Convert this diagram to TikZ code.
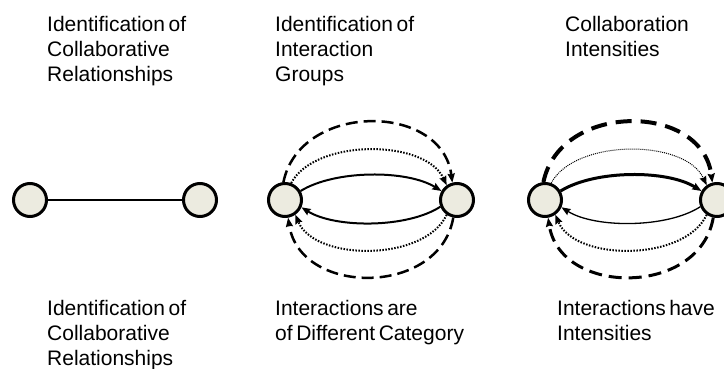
\documentclass[tikz,border=0pt]{standalone}
\usepackage{fontspec}
\setmainfont{Liberation Sans}
\usetikzlibrary{arrows.meta}
\definecolor{ballfill}{RGB}{236,235,224}
\newcommand\mylblfont{\fontsize{21}{25}\selectfont\spaceskip=0.17em\relax}
\begin{document}
\begin{tikzpicture}[x=1pt,y=1pt,
  ball/.style={circle, draw=black, line width=3pt, fill=ballfill, minimum size=33pt, inner sep=0pt},
  lbl/.style={anchor=north west, align=left, inner sep=0pt, font=\mylblfont},
  tip/.style={-{Stealth[length=9pt,width=7pt,inset=1pt]}},
  sol/.style={tip, line width=2pt},
  dots/.style={tip, line width=2pt, dash pattern=on 1.5pt off 1.5pt},
  dsh/.style={tip, line width=2.5pt, dash pattern=on 12pt off 6pt}]
\useasboundingbox (0,0) rectangle (724,369);

% titles
\node[lbl] (t1) at (47,352.5) {Identification of\\Collaborative\\Relationships};
\node[lbl] (t2) at (275,352.5) {Identification of\\Interaction\\Groups};
\node[lbl] (t3) at (565,352.5) {Collaboration\\Intensities};
% captions
\node[lbl] (c1) at (47,69.2) {Identification of\\Collaborative\\Relationships};
\node[lbl] (c2) at (275,69.2) {Interactions are\\of Different Category};
\node[lbl] (c3) at (557,69.2) {Interactions have\\Intensities};

% panel 1
\node[ball] (L1) at (30,169) {};
\node[ball] (R1) at (200,169) {};
\draw[line width=2pt] (L1) -- (R1);

% panel 2
\node[ball] (L2) at (285,169) {};
\node[ball] (R2) at (457,169) {};
\draw[sol] (L2.30) .. controls +(34.4,21.3) and +(-34.4,21.3) .. (R2.150);
\draw[dots] (L2.70) .. controls +(23.8,44.5) and +(-21.7,46.7) .. (R2.125);
\draw[dsh] (L2.95) .. controls +(16.6,80.1) and +(-10.3,80.6) .. (R2.105);
\draw[sol] (R2.202) .. controls +(-33.3,-21.6) and +(33.6,-21) .. (L2.-24);
\draw[dots] (R2.235) .. controls +(-21.7,-47) and +(19.7,-47) .. (L2.-55);
\draw[dsh] (R2.258) .. controls +(-13.3,-79) and +(11.9,-79) .. (L2.-80);

% panel 3
\node[ball] (L3) at (545,169) {};
\node[ball] (R3) at (717,169) {};
\draw[sol, line width=3pt] (L3.30) .. controls +(34.4,21.3) and +(-34.4,21.3) .. (R3.150);
\draw[dots, line width=1pt, dash pattern=on 1pt off 1pt] (L3.70) .. controls +(23.8,44.5) and +(-21.7,46.7) .. (R3.125);
\draw[dsh, line width=4pt, dash pattern=on 16pt off 9pt] (L3.95) .. controls +(16.6,80.1) and +(-10.3,80.6) .. (R3.105);
\draw[sol, line width=1.3pt] (R3.202) .. controls +(-33.3,-21.6) and +(33.6,-21) .. (L3.-24);
\draw[dots] (R3.235) .. controls +(-21.7,-47) and +(19.7,-47) .. (L3.-55);
\draw[dsh, line width=3pt, dash pattern=on 13pt off 7pt] (R3.258) .. controls +(-13.3,-79) and +(11.9,-79) .. (L3.-80);
\end{tikzpicture}
\end{document}
